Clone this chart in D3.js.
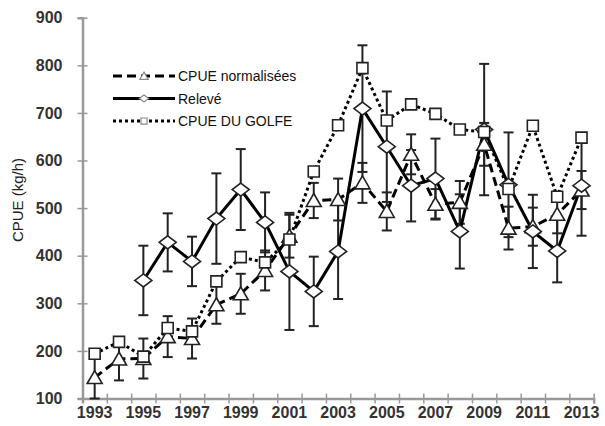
<!DOCTYPE html>
<html>
<head>
<meta charset="utf-8">
<script src="https://cdn.jsdelivr.net/npm/d3@7/dist/d3.min.js"></script>
<style>
  body { margin: 0; background: #fff; }
  text { font-family: "Liberation Sans", Arial, sans-serif; }
</style>
</head>
<body>
<svg id="chart" width="605" height="426"></svg>
<script>
var years = d3.range(1993, 2014)
var yTicks = [100, 200, 300, 400, 500, 600, 700, 800, 900]
var xLabels = [1993, 1995, 1997, 1999, 2001, 2003, 2005, 2007, 2009, 2011, 2013]

// CPUE normalisées (dashed, triangles)
var normValues = [144, 183, 184, 230, 226, 297, 320, 369, 441, 516, 518, 553, 493, 613, 508, 512, 634, 458, 461, 487, 538]
var normErr    = [45, 45, 42, 43, 42, 40, 42, 42, 45, 37, 44, 42, 40, 42, 32, 45, 45, 45, 40, 40, 40]
// Relevé (solid, diamonds)
var relValues  = [null, null, 348, 428, 388, 478, 539, 470, 367, 325, 409, 709, 629, 547, 562, 451, 665, 549, 451, 410, 547]
var relErr     = [null, null, 73, 61, 52, 95, 85, 63, 123, 73, 100, 133, 116, 75, 84, 78, 138, 110, 77, 66, 105]
// CPUE DU GOLFE (dotted, squares)
var golfeValues = [194, 219, 188, 248, 241, 346, 397, 386, 434, 577, 674, 794, 684, 718, 698, 665, 660, 540, 673, 524, 648]

var svg = d3.select("#chart")

var x = d3.scaleLinear().domain([1992.5, 2013.5]).range([82.5, 593.7])
var y = d3.scaleLinear().domain([100, 900]).range([398.5, 17.7])

var series = [
  {name: "CPUE normalisées", values: normValues, err: normErr, dash: "9,5", shape: "tri"},
  {name: "Relevé", values: relValues, err: relErr, dash: null, shape: "dia"},
  {name: "CPUE DU GOLFE", values: golfeValues, err: null, dash: "3,3", shape: "sq"}
]

// axes
var yAxis = svg.append("g").attr("transform", "translate(" + x(1992.5) + ",0)")
  .call(d3.axisLeft(y).tickValues(yTicks).tickSize(5).tickPadding(15))
yAxis.select(".domain").attr("stroke", "#999").attr("stroke-width", 2.5)
yAxis.selectAll(".tick line").attr("x1", 5).attr("stroke", "#999").attr("stroke-width", 1.5)
yAxis.selectAll(".tick text").attr("font-size", 16).attr("font-weight", "bold").attr("fill", "#333")
  .attr("font-family", "'Liberation Sans', Arial, sans-serif")

var xAxis = svg.append("g").attr("transform", "translate(0," + y(100) + ")")
  .call(d3.axisBottom(x).tickValues(d3.range(1993.5, 2014.5, 1)).tickSize(5).tickFormat(""))
xAxis.select(".domain").attr("stroke", "#999").attr("stroke-width", 2.5)
xAxis.selectAll(".tick line").attr("y1", -5).attr("stroke", "#999").attr("stroke-width", 1.5)

svg.append("g").selectAll("text").data(xLabels).enter().append("text")
  .attr("x", function(d){ return x(d) })
  .attr("y", 418)
  .attr("text-anchor", "middle")
  .attr("font-size", 16).attr("font-weight", "bold").attr("fill", "#333")
  .text(function(d){ return d })

svg.append("text")
  .attr("transform", "translate(23,200) rotate(-90)")
  .attr("text-anchor", "middle")
  .attr("font-size", 15).attr("fill", "#222")
  .text("CPUE (kg/h)")

// error bars
series.forEach(function(s){
  if (!s.err) return
  var pts = years.map(function(yr, i){ return {yr: yr, v: s.values[i], e: s.err[i]} })
    .filter(function(d){ return d.v != null })
  var g = svg.append("g").attr("stroke", "#222").attr("stroke-width", 2)
  g.selectAll(".bar").data(pts).enter().append("line")
    .attr("x1", function(d){ return x(d.yr) }).attr("x2", function(d){ return x(d.yr) })
    .attr("y1", function(d){ return y(d.v - d.e) }).attr("y2", function(d){ return y(d.v + d.e) })
  g.selectAll(".capT").data(pts).enter().append("line")
    .attr("x1", function(d){ return x(d.yr) - 5 }).attr("x2", function(d){ return x(d.yr) + 5 })
    .attr("y1", function(d){ return y(d.v + d.e) }).attr("y2", function(d){ return y(d.v + d.e) })
  g.selectAll(".capB").data(pts).enter().append("line")
    .attr("x1", function(d){ return x(d.yr) - 5 }).attr("x2", function(d){ return x(d.yr) + 5 })
    .attr("y1", function(d){ return Math.min(y(d.v - d.e), y(100)) }).attr("y2", function(d){ return Math.min(y(d.v - d.e), y(100)) })
})

function shapePath(shape, cx, cy, k) {
  k = k || 1
  if (shape == "tri") return "M" + cx + "," + (cy - 7*k) + "L" + (cx + 7.5*k) + "," + (cy + 6*k) + "L" + (cx - 7.5*k) + "," + (cy + 6*k) + "Z"
  if (shape == "dia") return "M" + cx + "," + (cy - 6.5*k) + "L" + (cx + 8.5*k) + "," + cy + "L" + cx + "," + (cy + 6.5*k) + "L" + (cx - 8.5*k) + "," + cy + "Z"
  return "M" + (cx - 5.5*k) + "," + (cy - 5.5*k) + "h" + 11*k + "v" + 11*k + "h" + (-11*k) + "Z"
}

// lines
series.forEach(function(s){
  var line = d3.line()
    .defined(function(d){ return d.v != null })
    .x(function(d){ return x(d.yr) }).y(function(d){ return y(d.v) })
  svg.append("path")
    .datum(years.map(function(yr, i){ return {yr: yr, v: s.values[i]} }))
    .attr("d", line)
    .attr("fill", "none").attr("stroke", "#000").attr("stroke-width", 3)
    .attr("stroke-dasharray", s.dash)
})

// markers
series.forEach(function(s){
  var pts = years.map(function(yr, i){ return {yr: yr, v: s.values[i]} }).filter(function(d){ return d.v != null })
  svg.append("g").selectAll("path").data(pts).enter().append("path")
    .attr("d", function(d){ return shapePath(s.shape, x(d.yr), y(d.v)) })
    .attr("fill", "#fff").attr("stroke", "#222").attr("stroke-width", 1.6)
})

// legend
var legend = svg.append("g")
series.forEach(function(s, i){
  var ly = 76 + i * 22.5
  legend.append("line").attr("x1", 113).attr("x2", 175).attr("y1", ly).attr("y2", ly)
    .attr("stroke", "#000").attr("stroke-width", 3).attr("stroke-dasharray", s.dash)
  legend.append("path").attr("d", shapePath(s.shape, 144, ly, 0.55))
    .attr("fill", "#fff").attr("stroke", "#888").attr("stroke-width", 1.2)
  legend.append("text").attr("x", 178).attr("y", ly + 5)
    .attr("font-size", 14).attr("fill", "#111").text(s.name)
})
</script>
</body>
</html>
